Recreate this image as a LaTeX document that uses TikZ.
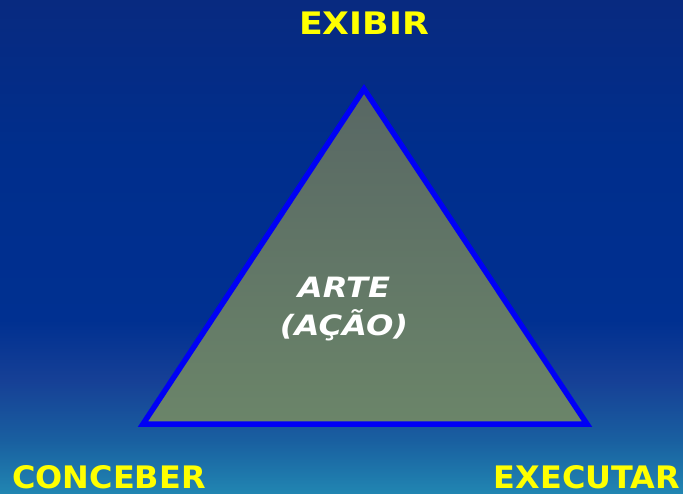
\documentclass[tikz,border=0pt]{standalone}
\usepackage{fontspec}
\setmainfont{DejaVu Sans}
\definecolor{bgA}{RGB}{33,134,178}
\definecolor{bgB}{RGB}{25,95,160}
\definecolor{bgC}{RGB}{22,64,150}
\definecolor{bgD}{RGB}{0,48,145}
\definecolor{bgE}{RGB}{0,46,140}
\definecolor{bgF}{RGB}{8,42,128}
\definecolor{triTop}{RGB}{88,103,100}
\definecolor{triBot}{RGB}{107,133,105}
\definecolor{edgeBlue}{RGB}{0,0,245}
\definecolor{labelYellow}{RGB}{255,255,0}
% sky-like backdrop, light at the foot, deep blue above
\pgfdeclareverticalshading{backdrop}{100bp}{color(0bp)=(bgA); color(25bp)=(bgA); color(30.5bp)=(bgB); color(36.5bp)=(bgC); color(42.6bp)=(bgD); color(59.8bp)=(bgE); color(75bp)=(bgF); color(100bp)=(bgF)}
\tikzset{
  corner/.style={font=\bfseries\fontsize{31}{36}\selectfont, text=labelYellow, inner sep=0pt, xscale=1.03},
  centre/.style={font=\bfseries\itshape\fontsize{28}{38}\selectfont, text=white, align=center, inner sep=0pt, xscale=1.15},
  tri/.style={draw=edgeBlue, line width=5.5pt, line join=miter, top color=triTop, bottom color=triBot},
}
\begin{document}
\begin{tikzpicture}[x=1pt,y=-1pt]
  \path[shading=backdrop] (0,0) rectangle (683,494);
  \useasboundingbox (0,0) rectangle (683,494);
  \coordinate (apex) at (364,89);
  \coordinate (left) at (143,424);
  \coordinate (right) at (587,424);
  \path[tri] (apex) -- (left) -- (right) -- cycle;
  \node[centre] (arte) at (344,309) {ARTE\\(AÇÃO)};
  \node[corner, xscale=1.09] (exibir) at (364,23) {EXIBIR};
  \node[corner] (conceber) at (109,477) {CONCEBER};
  \node[corner] (executar) at (587,477) {EXECUTAR};
\end{tikzpicture}
\end{document}
